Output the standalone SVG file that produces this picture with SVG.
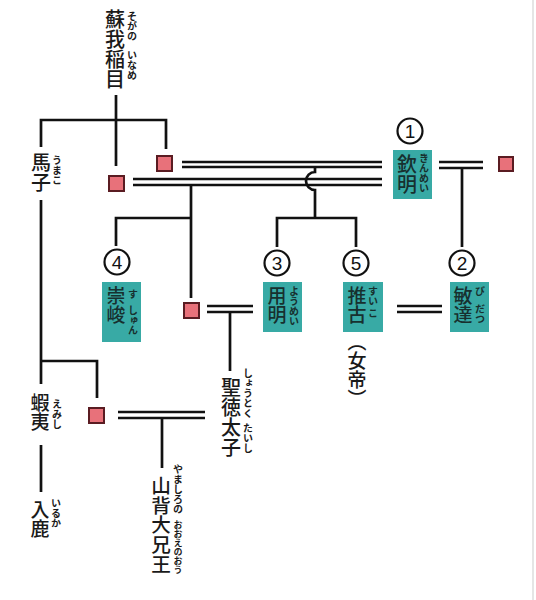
<svg xmlns="http://www.w3.org/2000/svg" width="536" height="600" viewBox="0 0 536 600">
<style>
.v{writing-mode:vertical-rl;font-family:"Noto Sans CJK JP","Noto Sans CJK SC",sans-serif;fill:#1a1a1a}
.m{font-size:20px;font-weight:500}
.f{font-size:10px;font-weight:700}
.b{fill:#17302f}
.ln{stroke:#111;stroke-width:2.7;fill:none}
.dl{stroke:#111;stroke-width:2.3;fill:none}
.sq{fill:#e8717a;stroke:#5a1c22;stroke-width:2}
.box{fill:#38aaa5}
.cir{fill:#fff;stroke:#111;stroke-width:2.2}
.num{font-family:"Liberation Sans","DejaVu Sans",sans-serif;font-size:19px;fill:#111;text-anchor:middle}
</style>
<rect width="536" height="600" fill="#fff"/>
<line x1="533" y1="0" x2="533" y2="600" stroke="#ddd" stroke-width="1.5"/>

<g id="connectors">
  <path class="ln" d="M116,95 V166"/>
  <path class="ln" d="M41,147 V120 H166 V149"/>
  <path class="ln" d="M41,200 V384"/>
  <path class="ln" d="M41,361 H97 V398"/>
  <path class="ln" d="M41,445 V492"/>
  <path class="dl" d="M182,162 H382 M182,167 H382"/>
  <path class="dl" d="M133,179 H382 M133,185 H382"/>
  <path class="dl" d="M439,162 H483 M439,168 H483"/>
  <path class="ln" d="M462,168 V247"/>
  <path class="ln" d="M315,167 V172 A9,9 0 0 0 315,190 V218"/>
  <path class="ln" d="M277,247 V218 H356 V247"/>
  <path class="ln" d="M191,185 V298"/>
  <path class="ln" d="M116,246 V218 H191"/>
  <path class="dl" d="M207,306 H253 M207,312 H253"/>
  <path class="ln" d="M230,312 V371"/>
  <path class="dl" d="M397,306 H442 M397,312 H442"/>
  <path class="dl" d="M118,412 H205 M118,418 H205"/>
  <path class="ln" d="M162,418 V468"/>
</g>

<g id="iname">
  <text class="v m" x="115" y="9">蘇我稲目</text>
  <text class="v f" x="132" y="11">そがの</text>
  <text class="v f" x="132" y="50">いなめ</text>
</g>
<g id="umako">
  <text class="v m" x="41" y="152">馬子</text>
  <text class="v f" x="57" y="155">うまこ</text>
</g>
<g id="emishi">
  <text class="v m" x="40" y="393" style="font-size:19px">蝦夷</text>
  <text class="v f" x="57" y="399">えみし</text>
</g>
<g id="iruka">
  <text class="v m" x="40" y="500" style="font-size:19px">入鹿</text>
  <text class="v f" x="56" y="498">いるか</text>
</g>
<g id="shotoku">
  <text class="v m" x="231" y="377">聖徳太子</text>
  <text class="v f" x="248" y="368">しょうとく</text>
  <text class="v f" x="248" y="423">たいし</text>
</g>
<g id="yamashiro">
  <text class="v m" x="161" y="476" style="font-size:19.6px">山背大兄王</text>
  <text class="v f" x="178" y="464">やましろの</text>
  <text class="v f" x="178" y="520" style="font-size:9px">おおえのおう</text>
</g>

<g id="sq1"><rect class="sq" x="157" y="156" width="15" height="15"/></g>
<g id="sq2"><rect class="sq" x="109" y="176" width="15" height="15"/></g>
<g id="sq3"><rect class="sq" x="499" y="157" width="14" height="14"/></g>
<g id="sq4"><rect class="sq" x="184" y="303" width="15" height="15"/></g>
<g id="sq5"><rect class="sq" x="89" y="408" width="15" height="15"/></g>

<g id="kinmei">
  <circle class="cir" cx="410" cy="131" r="12.5"/>
  <text class="num" x="410" y="138">1</text>
  <rect class="box" x="393" y="150" width="39" height="49"/>
  <text class="v m b" x="407" y="154">欽明</text>
  <text class="v f b" x="424" y="153">きんめい</text>
</g>
<g id="bidatsu">
  <circle class="cir" cx="462" cy="263" r="12.5"/>
  <text class="num" x="462" y="270">2</text>
  <rect class="box" x="450" y="282" width="39" height="50"/>
  <text class="v m b" x="463" y="286" style="font-size:19px">敏達</text>
  <text class="v f b" x="480" y="286">び</text>
  <text class="v f b" x="480" y="304">だつ</text>
</g>
<g id="yomei">
  <circle class="cir" cx="277" cy="263" r="12.5"/>
  <text class="num" x="277" y="270">3</text>
  <rect class="box" x="263" y="282" width="39" height="50"/>
  <text class="v m b" x="277" y="286" style="font-size:19px">用明</text>
  <text class="v f b" x="294" y="286">ようめい</text>
</g>
<g id="sushun">
  <circle class="cir" cx="117" cy="262" r="12.5"/>
  <text class="num" x="117" y="269">4</text>
  <rect class="box" x="102" y="282" width="39" height="60"/>
  <text class="v m b" x="116" y="286" style="font-size:19px">崇峻</text>
  <text class="v f b" x="133" y="289">す</text>
  <text class="v f b" x="133" y="305">しゅん</text>
</g>
<g id="suiko">
  <circle class="cir" cx="356" cy="263" r="12.5"/>
  <text class="num" x="356" y="270">5</text>
  <rect class="box" x="343" y="282" width="40" height="50"/>
  <text class="v m b" x="357" y="286" style="font-size:19px">推古</text>
  <text class="v f b" x="373" y="286">すい</text>
  <text class="v f b" x="373" y="308">こ</text>
  <text class="v m" x="357" y="332" style="font-size:19px">（女帝）</text>
</g>
</svg>
